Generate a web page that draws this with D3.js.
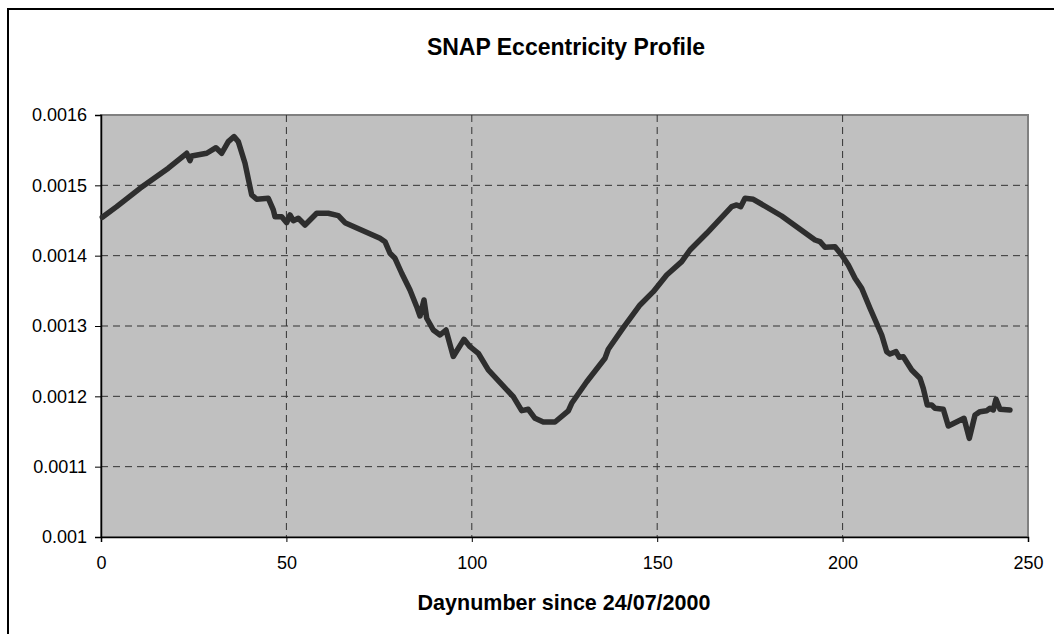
<!DOCTYPE html>
<html>
<head>
<meta charset="utf-8">
<script src="https://cdn.jsdelivr.net/npm/d3@7"></script>
<style>
  body { margin: 0; background: #fff; }
  svg { display: block; font-family: "Liberation Sans", Arial, sans-serif; }
</style>
</head>
<body>
<div id="chart"></div>
<script>
// data
var days = [0.35, 4.23, 10.52, 18.15, 23.11, 24.0, 24.46, 28.51, 31.01, 32.55, 34.33, 35.87, 37.03, 38.84,
  40.64, 41.99, 45.12, 46.47, 46.93, 48.73, 50.08, 50.97, 51.86, 53.21, 55.02, 58.17, 61.3, 64.0, 65.8,
  75.24, 76.59, 77.94, 79.29, 81.1, 83.33, 85.14, 86.03, 87.11, 87.84, 89.62, 91.43, 93.04, 95.01, 97.9,
  99.52, 101.75, 104.45, 111.19, 113.46, 115.24, 117.05, 119.28, 122.44, 126.03, 126.94, 130.99, 135.92,
  136.81, 140.86, 145.36, 148.95, 152.56, 156.61, 158.85, 163.35, 170.09, 171.44, 172.52, 173.68, 175.92,
  183.58, 192.56, 193.91, 195.26, 197.95, 199.76, 201.54, 203.35, 205.15, 207.39, 210.55, 211.9, 212.78,
  214.4, 215.29, 216.37, 218.64, 220.87, 221.76, 222.84, 224.03, 224.92, 227.16, 228.51, 232.74, 234.17,
  235.71, 237.06, 238.86, 239.75, 240.64, 241.37, 242.45, 245.14];
var ecc = [0.0014546, 0.0014697, 0.0014958, 0.0015243, 0.0015456, 0.0015351, 0.0015417, 0.0015456, 0.0015535,
  0.0015456, 0.0015621, 0.0015692, 0.0015621, 0.0015314, 0.0014863, 0.0014802, 0.0014816, 0.001465, 0.0014554,
  0.0014554, 0.0014469, 0.0014579, 0.0014497, 0.0014532, 0.0014436, 0.0014603, 0.0014603, 0.0014569, 0.0014469,
  0.0014247, 0.0014199, 0.0014034, 0.0013963, 0.001375, 0.0013512, 0.0013275, 0.0013142, 0.001337, 0.001311,
  0.0012943, 0.0012872, 0.0012943, 0.0012567, 0.0012811, 0.0012706, 0.0012612, 0.0012375, 0.0011995, 0.0011796,
  0.0011816, 0.0011688, 0.0011635, 0.0011635, 0.0011792, 0.0011901, 0.0012208, 0.0012541, 0.0012669, 0.0012976,
  0.0013299, 0.0013488, 0.0013725, 0.0013915, 0.0014081, 0.0014318, 0.0014697, 0.0014721, 0.0014697, 0.0014816,
  0.0014802, 0.0014564, 0.0014223, 0.0014199, 0.0014119, 0.0014128, 0.001401, 0.0013868, 0.0013678, 0.0013536,
  0.0013252, 0.0012872, 0.0012635, 0.0012602, 0.0012635, 0.0012555, 0.0012564, 0.0012375, 0.0012257, 0.0012114,
  0.0011877, 0.0011877, 0.001183, 0.0011816, 0.0011578, 0.0011688, 0.0011403, 0.0011735, 0.0011782, 0.0011796,
  0.001183, 0.0011806, 0.0011958, 0.0011816, 0.0011806];
var xTicks = [0, 50, 100, 150, 200, 250];
var yTicks = [0.001, 0.0011, 0.0012, 0.0013, 0.0014, 0.0015, 0.0016];
var yTickLabels = ["0.001", "0.0011", "0.0012", "0.0013", "0.0014", "0.0015", "0.0016"];

var W = 1054, H = 634;
var plot = {left: 101, right: 1028, top: 115, bottom: 537};

var svg = d3.select("#chart").append("svg")
  .attr("width", W)
  .attr("height", H);

// outer frame (left + top only visible)
svg.append("path")
  .attr("d", "M8," + H + " L8,9 L" + W + ",9")
  .attr("fill", "none")
  .attr("stroke", "#000")
  .attr("stroke-width", 2);

var x = d3.scaleLinear().domain([0, 250]).range([plot.left, plot.right]);
var y = d3.scaleLinear().domain([0.001, 0.0016]).range([plot.bottom, plot.top]);

// plot background
svg.append("rect")
  .attr("x", plot.left)
  .attr("y", plot.top)
  .attr("width", plot.right - plot.left)
  .attr("height", plot.bottom - plot.top)
  .style("fill", "#c0c0c0")
  .style("stroke", "#808080")
  .style("stroke-width", 2);

// grid
var g_grid = svg.append("g");
g_grid.selectAll(".hg")
  .data(yTicks.slice(1, -1))
  .enter().append("line")
  .attr("x1", plot.left).attr("x2", plot.right)
  .attr("y1", function (d) { return y(d); })
  .attr("y2", function (d) { return y(d); })
  .attr("stroke", "#333")
  .attr("stroke-dasharray", "7,5");
g_grid.selectAll(".vg")
  .data(xTicks.slice(1, -1))
  .enter().append("line")
  .attr("y1", plot.top).attr("y2", plot.bottom)
  .attr("x1", function (d) { return x(d); })
  .attr("x2", function (d) { return x(d); })
  .attr("stroke", "#333")
  .attr("stroke-dasharray", "7,5");

// axes
var xAxis = d3.axisBottom(x).tickValues(xTicks).tickSize(5).tickPadding(14);
var gx = svg.append("g")
  .attr("transform", "translate(0," + plot.bottom + ")")
  .call(xAxis);
gx.select(".domain").attr("stroke", "#000").attr("stroke-width", 1.5);
gx.selectAll("text").style("font-size", "18px").attr("fill", "#000");

var yAxis = d3.axisLeft(y).tickValues(yTicks).tickSize(6).tickPadding(8)
  .tickFormat(function (d, i) { return yTickLabels[i]; });
var gy = svg.append("g")
  .attr("transform", "translate(" + plot.left + ",0)")
  .call(yAxis);
gy.select(".domain").attr("stroke", "#000").attr("stroke-width", 1.5);
gy.selectAll("text").style("font-size", "18px").attr("fill", "#000");

// line
var line = d3.line()
  .x(function (d, i) { return x(days[i]); })
  .y(function (d) { return y(d); });
svg.append("path")
  .datum(ecc)
  .attr("d", line)
  .attr("fill", "none")
  .attr("stroke", "#2e2e2e")
  .attr("stroke-width", 5.5)
  .attr("stroke-linejoin", "round")
  .attr("stroke-linecap", "round");

// titles
svg.append("text")
  .text("SNAP Eccentricity Profile")
  .attr("x", 566)
  .attr("y", 55)
  .attr("text-anchor", "middle")
  .style("font-size", "23px")
  .style("font-weight", "bold");

svg.append("text")
  .text("Daynumber since 24/07/2000")
  .attr("x", 564)
  .attr("y", 610)
  .attr("text-anchor", "middle")
  .style("font-size", "21.5px")
  .style("font-weight", "bold");
</script>
</body>
</html>
